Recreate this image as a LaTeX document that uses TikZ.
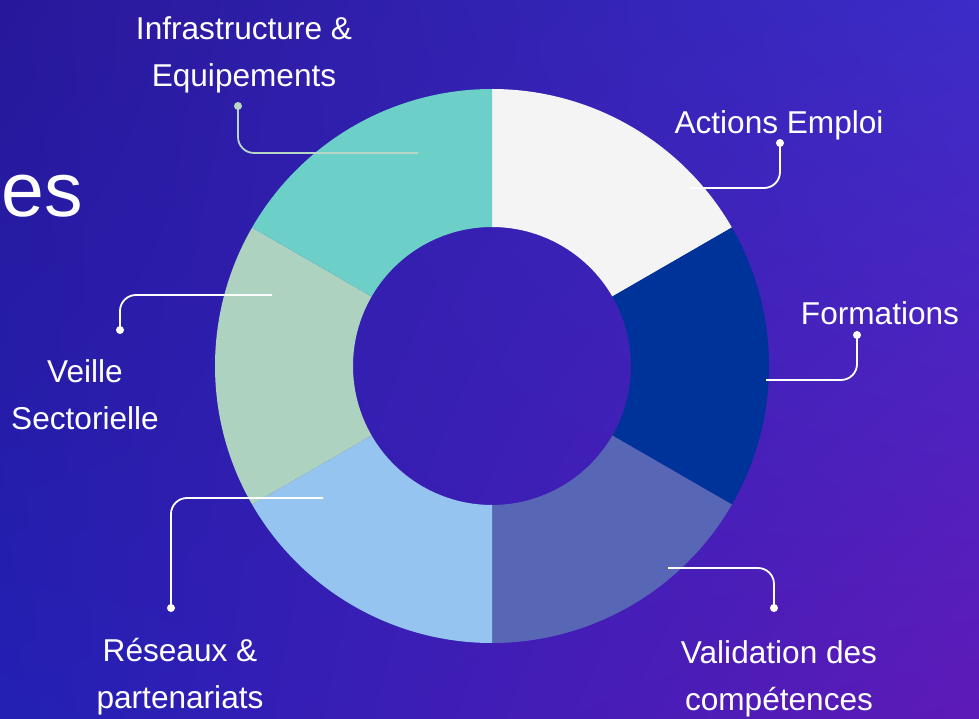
\documentclass[tikz,border=0pt]{standalone}
\usepackage{fontspec}
\setmainfont{Liberation Sans}
\usetikzlibrary{shadings}
\definecolor{bgUL}{HTML}{27189A}
\definecolor{bgUR}{HTML}{3C2CC8}
\definecolor{bgLL}{HTML}{2320B4}
\definecolor{bgLR}{HTML}{5E1AB8}
\definecolor{segAct}{HTML}{F4F4F4}
\definecolor{segFor}{HTML}{003399}
\definecolor{segVal}{HTML}{5767B5}
\definecolor{segRes}{HTML}{94C4EF}
\definecolor{segVei}{HTML}{ADD2C0}
\definecolor{segInf}{HTML}{6CD0C9}
\definecolor{connInf}{HTML}{B6D6C6}
\tikzset{
  lbl/.style={text=white, inner sep=0pt, align=center, anchor=base,
    font=\fontsize{31.6pt}{47pt}\selectfont},
  dotnode/.style={circle, fill=#1, minimum size=8pt, inner sep=0pt},
  conn/.style={draw=#1, line width=1.8pt, rounded corners=16pt},
}
\newcommand{\ringseg}[3]{%
  \fill[#3] (#1:277pt) arc[start angle=#1, end angle=#2, radius=277pt]
    -- (#2:139pt) arc[start angle=#2, end angle=#1, radius=139pt] -- cycle;}
\begin{document}
\begin{tikzpicture}[x=1pt,y=1pt]
\useasboundingbox (0,0) rectangle (979,718);
\shade[upper left=bgUL, upper right=bgUR, lower left=bgLL, lower right=bgLR]
  (0,0) rectangle (979,718);
% big partial title
\node[text=white, inner sep=0pt, anchor=base east,
  font=\fontsize{77pt}{77pt}\selectfont] (title) at (83,501) {es};
% donut
\begin{scope}[shift={(492,352)}]
  \ringseg{30}{90}{segAct}
  \ringseg{-30}{30}{segFor}
  \ringseg{-90}{-30}{segVal}
  \ringseg{-150}{-90}{segRes}
  \ringseg{150}{210}{segVei}
  \ringseg{90}{150}{segInf}
\end{scope}
% labels (base anchor = baseline of last line)
\node[lbl] (tInf) at (244,631) {Infrastructure \&\\Equipements};
\node[lbl] (tAct) at (779,584) {Actions Emploi};
\node[lbl] (tFor) at (880,393) {Formations};
\node[lbl] (tVei) at (85,288) {Veille\\Sectorielle};
\node[lbl] (tRes) at (180,10) {Réseaux \&\\partenariats};
\node[lbl] (tVal) at (779,8) {Validation des\\compétences};
% connector ends
\coordinate (eInf) at (418,565);
\coordinate (eAct) at (690,530);
\coordinate (eFor) at (766,338);
\coordinate (eVal) at (668,150);
\coordinate (eRes) at (323,220);
\coordinate (eVei) at (272,423);
% dots
\node[dotnode=connInf] (dInf) at (238,612) {};
\node[dotnode=white] (dAct) at (780,575) {};
\node[dotnode=white] (dFor) at (857,383) {};
\node[dotnode=white] (dVal) at (774,110) {};
\node[dotnode=white] (dRes) at (171,110) {};
\node[dotnode=white] (dVei) at (120,388) {};
% connectors
\draw[conn=connInf] (dInf.center) |- (eInf);
\draw[conn=white] (dAct.center) |- (eAct);
\draw[conn=white] (dFor.center) |- (eFor);
\draw[conn=white] (dVal.center) |- (eVal);
\draw[conn=white] (dRes.center) |- (eRes);
\draw[conn=white] (dVei.center) |- (eVei);
\end{tikzpicture}
\end{document}
